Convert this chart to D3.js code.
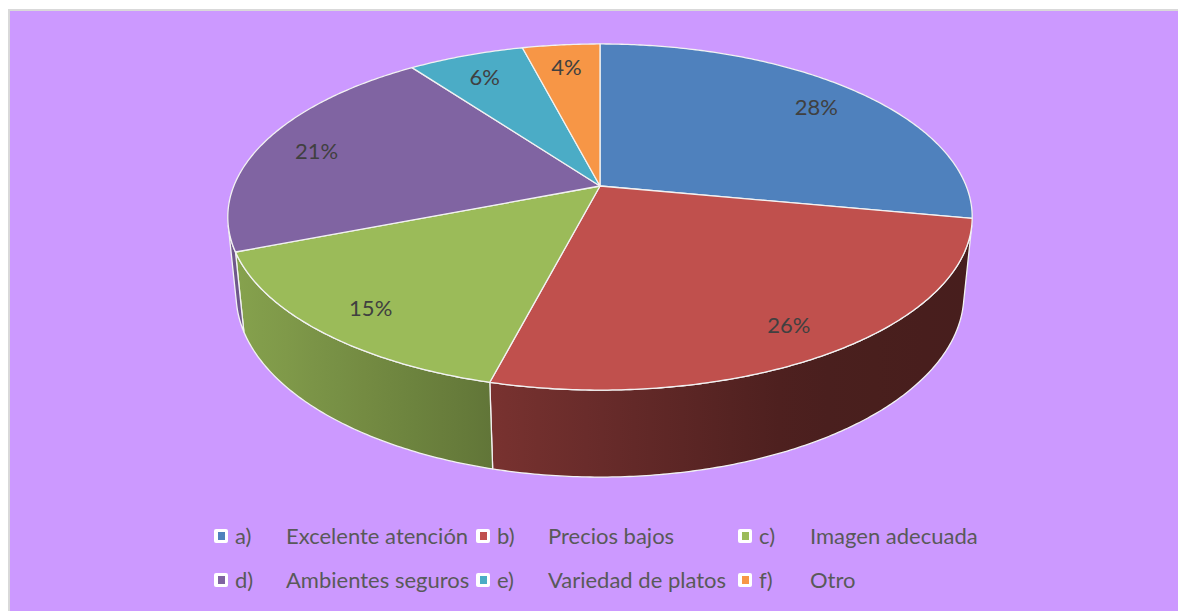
<!DOCTYPE html>
<html>
<head>
<meta charset="utf-8">
<script src="https://cdn.jsdelivr.net/npm/d3@7/dist/d3.min.js"></script>
<style>
  html, body { margin: 0; padding: 0; background: #ffffff; }
  svg { display: block; }
</style>
</head>
<body>
<svg id="chart" width="1178" height="611"></svg>
<script>
// Survey answers, share of respondents (%)
const keys = ["a)", "b)", "c)", "d)", "e)", "f)"];
const names = ["Excelente atención", "Precios bajos", "Imagen adecuada",
               "Ambientes seguros", "Variedad de platos", "Otro"];
const values = [28, 26, 15, 21, 6, 4];
const colors = ["#4F81BD", "#C0504D", "#9BBB59", "#8064A2", "#4BACC6", "#F79646"];

const W = 1178, H = 611;
const svg = d3.select("#chart");
const defs = svg.append("defs");

// chart area
svg.append("rect").attr("x", 9).attr("y", 10).attr("width", W).attr("height", H)
  .attr("fill", "#CC99FF").attr("stroke", "#D9D9D9").attr("stroke-width", 2);

// --- perspective camera for a tilted disc of unit radius ---
const cam = { cx: 600, cy: 186, f: 1817, D: 4.962, tilt: Math.asin(0.4574) };
const sA = Math.sin(cam.tilt), cA = Math.cos(cam.tilt);
const thickness = 0.239;

// a: angle clockwise from 12 o'clock, r: radius (0..1), z: height (0 = top face)
function project(a, r, z) {
  const x = r * Math.sin(a), y = r * Math.cos(a);
  const depth = y * cA - z * sA + cam.D;
  const up = y * sA + z * cA;
  return [cam.cx + cam.f * x / depth, cam.cy - cam.f * up / depth];
}

const pie = d3.pie().sort(null).value(d => d)(values);
const line = d3.line();

// the outer wall faces the viewer where cos(a) < -1/(D cos tilt)
const aVis0 = Math.acos(-1 / (cam.D * cA));
const aVis1 = 2 * Math.PI - aVis0;

function arcPts(a0, a1, r, z) {
  const n = Math.max(2, Math.ceil((a1 - a0) / 0.01));
  return d3.range(n + 1).map(i => project(a0 + (a1 - a0) * i / n, r, z));
}

// wall shading falls off from left to right
const shade = d3.scaleLinear().domain([230, 500, 800, 975]).range([0.87, 0.62, 0.39, 0.37]).clamp(true);
function darken(hex, k) {
  const c = d3.rgb(hex);
  return d3.rgb(c.r * k, c.g * k, c.b * k).formatHex();
}

const walls = svg.append("g");
pie.forEach((s, i) => {
  const a0 = Math.max(s.startAngle, aVis0), a1 = Math.min(s.endAngle, aVis1);
  if (a1 <= a0) return;
  const top = arcPts(a0, a1, 1, 0);
  const bot = arcPts(a0, a1, 1, -thickness).reverse();
  const pts = top.concat(bot);
  const xs = pts.map(p => p[0]);
  const x0 = d3.min(xs), x1 = d3.max(xs);
  const id = "wall" + i;
  const g = defs.append("linearGradient").attr("id", id)
    .attr("gradientUnits", "userSpaceOnUse")
    .attr("x1", x0).attr("x2", x1).attr("y1", 0).attr("y2", 0);
  d3.range(11).forEach(j => {
    const t = j / 10;
    g.append("stop").attr("offset", t)
      .attr("stop-color", darken(colors[i], shade(x0 + (x1 - x0) * t)));
  });
  walls.append("path").attr("d", line(pts) + "Z")
    .attr("fill", `url(#${id})`)
    .attr("stroke", "#F2F2F2").attr("stroke-width", 1.3).attr("stroke-linejoin", "round");
});

// top face
const tops = svg.append("g");
pie.forEach((s, i) => {
  const pts = [project(0, 0, 0)].concat(arcPts(s.startAngle, s.endAngle, 1, 0));
  tops.append("path").attr("d", line(pts) + "Z")
    .attr("fill", colors[i])
    .attr("stroke", "#F2F2F2").attr("stroke-width", 1.3).attr("stroke-linejoin", "round");
});

// data labels
const labelFont = "Lato, 'Open Sans', sans-serif";
const labelPos = d => project((d.startAngle + d.endAngle) / 2, 0.84, 0);
svg.append("g").selectAll("text").data(pie).join("text")
  .attr("x", d => labelPos(d)[0])
  .attr("y", d => labelPos(d)[1] + 3)
  .attr("dy", "0.36em")
  .attr("text-anchor", "middle")
  .attr("font-family", labelFont).attr("font-size", 22)
  .attr("fill", "#404040")
  .text(d => d.data + "%");

// legend: three columns, two rows
const colX = d3.scaleOrdinal().domain([0, 1, 2]).range([214, 476, 738]);
const rowY = d3.scaleOrdinal().domain([0, 1]).range([536, 580]);
const legend = svg.append("g");
keys.forEach((k, i) => {
  const x = colX(i % 3), y = rowY(Math.floor(i / 3));
  const item = legend.append("g").attr("transform", `translate(${x},${y})`);
  item.append("rect").attr("x", 0).attr("y", -7).attr("width", 14).attr("height", 14)
    .attr("rx", 2).attr("fill", "#ffffff");
  item.append("rect").attr("x", 4).attr("y", -4).attr("width", 7).attr("height", 8)
    .attr("fill", colors[i]);
  item.append("text").attr("x", 21).attr("y", 0).attr("dy", "0.36em")
    .attr("font-family", labelFont).attr("font-size", 22).attr("fill", "#595959")
    .text(k);
  item.append("text").attr("x", 72).attr("y", 0).attr("dy", "0.36em")
    .attr("font-family", labelFont).attr("font-size", 22).attr("fill", "#595959")
    .text(names[i]);
});
</script>
</body>
</html>
